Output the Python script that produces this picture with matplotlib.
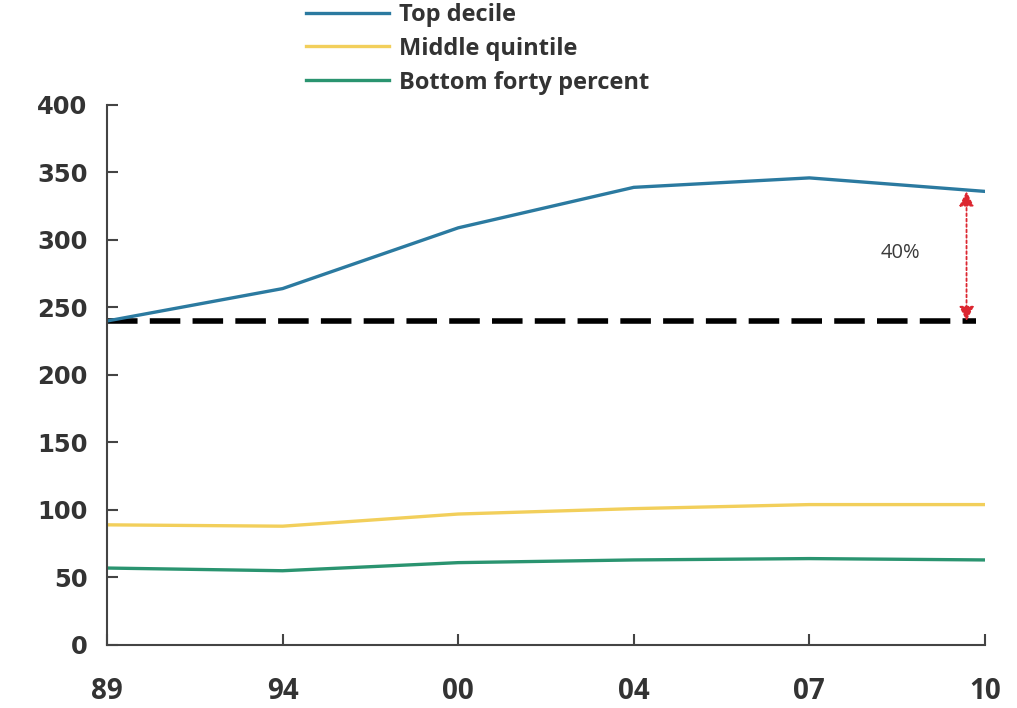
import matplotlib
matplotlib.use("Agg")
import matplotlib.pyplot as plt

# Data
years = ["89", "94", "00", "04", "07", "10"]
top_decile = [240, 264, 309, 339, 346, 336]
middle_quintile = [89, 88, 97, 101, 104, 104]
bottom_forty = [57, 55, 61, 63, 64, 63]
baseline = 240
gap_label = "40%"
y_ticks = [0, 50, 100, 150, 200, 250, 300, 350, 400]

plt.rcParams['font.family'] = ['Open Sans', 'DejaVu Sans']

fig = plt.figure(figsize=(10.17, 7.08), dpi=100)
ax = fig.add_axes([0.1052, 0.089, 0.8633, 0.7627])

x = list(range(len(years)))
l1, = ax.plot(x, top_decile, color='#2b7aa0', lw=2.4, label='Top decile')
l2, = ax.plot(x, middle_quintile, color='#f2cf5b', lw=2.4, label='Middle quintile')
l3, = ax.plot(x, bottom_forty, color='#2a9470', lw=2.4, label='Bottom forty percent')

# Reference level at the starting value
ax.plot([0, 4.95], [baseline, baseline], color='black', lw=4,
        dashes=(5.5, 2.2), zorder=1)

# Gap annotation
ax.annotate('', xy=(4.895, top_decile[-1]), xytext=(4.895, baseline),
            arrowprops=dict(arrowstyle='<|-|>', color='#dc2630', lw=1.3,
                            linestyle=(0, (1.5, 1.5)), mutation_scale=22,
                            shrinkA=0, shrinkB=0))
ax.text(4.52, 290, gap_label, fontsize=14.5, color='#3a3a3a',
        ha='center', va='center')

ax.set_xlim(0, 5)
ax.set_ylim(0, 400)
ax.set_xticks(x)
ax.set_xticklabels(years)
ax.set_yticks(y_ticks)

for s in ['top', 'right']:
    ax.spines[s].set_visible(False)
for s in ['left', 'bottom']:
    ax.spines[s].set_color('#444444')
    ax.spines[s].set_linewidth(1.5)

ax.tick_params(axis='both', direction='in', length=8, width=1.5,
               color='#444444', labelcolor='#333333')
ax.tick_params(axis='x', pad=23)
ax.tick_params(axis='y', pad=14)
for lab in ax.get_xticklabels():
    lab.set_fontweight('bold')
    lab.set_fontsize(20)
    lab.set_family(['Open Sans', 'DejaVu Sans'])
for lab in ax.get_yticklabels():
    lab.set_fontweight('bold')
    lab.set_fontsize(17.5)
    lab.set_family(['DejaVu Sans'])

leg = fig.legend(handles=[l1, l2, l3], loc='upper left',
                 bbox_to_anchor=(0.280, 1.026), frameon=False,
                 prop={'size': 17, 'weight': 'bold', 'family': ['Open Sans', 'DejaVu Sans']},
                 handlelength=3.5, handletextpad=0.42, labelspacing=0.42)
for t in leg.get_texts():
    t.set_color('#333333')

fig.savefig('out.png', dpi=100)
